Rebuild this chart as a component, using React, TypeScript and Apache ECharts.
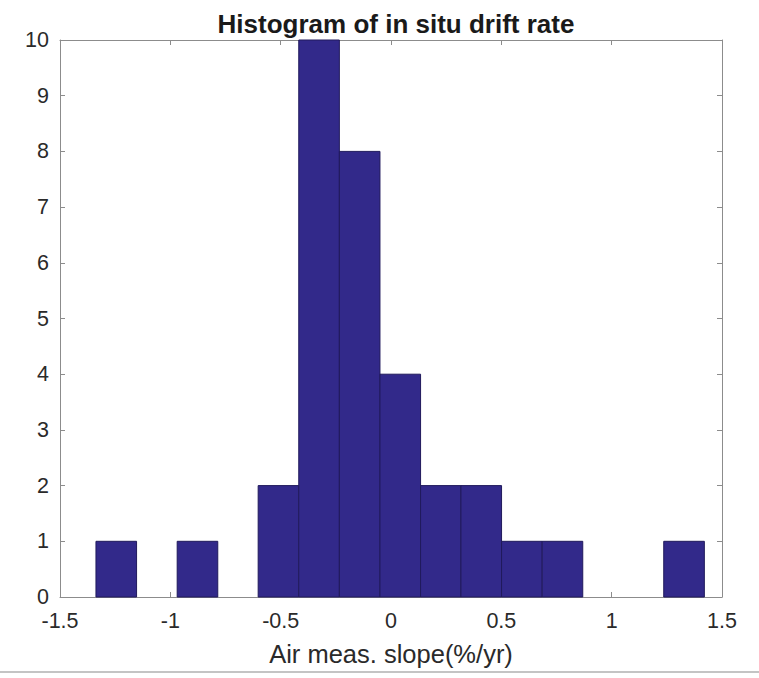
import React, { useEffect, useRef } from "react";
import * as echarts from "echarts";

const binEdges = [-1.337, -1.153, -0.969, -0.785, -0.602, -0.418, -0.234, -0.05, 0.134, 0.317, 0.501, 0.685, 0.869, 1.053, 1.236, 1.42];
const counts = [1, 0, 1, 0, 2, 10, 8, 4, 2, 2, 1, 1, 0, 0, 1];
const titleText = "Histogram of in situ drift rate";
const xName = "Air meas. slope(%/yr)";

export default function App() {
  const ref = useRef<HTMLDivElement>(null);
  useEffect(() => {
    const chart = echarts.init(ref.current!, null, { renderer: "svg" });
    const data = counts.map((c, i) => [binEdges[i], binEdges[i + 1], c]);
    const axisColor = "#8c8c8c";
    const labelColor = "#2a2a2a";
    const font = "Liberation Sans, Arial, Helvetica, sans-serif";
    chart.setOption({
      animation: false,
      backgroundColor: "#ffffff",
      title: {
        text: titleText,
        left: 391,
        top: 6,
        textAlign: "center",
        textStyle: { fontFamily: font, fontSize: 26, fontWeight: "bold", color: "#1a1a1a" },
      },
      grid: { left: 60, top: 40, right: 37, bottom: 81, containLabel: false },
      xAxis: [
        {
          type: "value",
          min: -1.5,
          max: 1.5,
          interval: 0.5,
          position: "bottom",
          name: xName,
          nameLocation: "middle",
          nameGap: 44,
          nameTextStyle: { fontFamily: font, fontSize: 25.5, color: labelColor },
          axisLine: { show: true, onZero: false, lineStyle: { color: axisColor, width: 1 } },
          axisTick: { show: true, inside: true, length: 5, lineStyle: { color: axisColor } },
          axisLabel: {
            fontFamily: font, fontSize: 21.5, color: labelColor, margin: 13,
            formatter: (v: number) => String(v),
          },
          splitLine: { show: false },
        },
        {
          type: "value",
          min: -1.5,
          max: 1.5,
          interval: 0.5,
          position: "top",
          axisLine: { show: true, onZero: false, lineStyle: { color: axisColor, width: 1 } },
          axisTick: { show: true, inside: true, length: 5, lineStyle: { color: axisColor } },
          axisLabel: { show: false },
          splitLine: { show: false },
        },
      ],
      yAxis: [
        {
          type: "value",
          min: 0,
          max: 10,
          interval: 1,
          position: "left",
          axisLine: { show: true, onZero: false, lineStyle: { color: axisColor, width: 1 } },
          axisTick: { show: true, inside: true, length: 5, lineStyle: { color: axisColor } },
          axisLabel: { fontFamily: font, fontSize: 21.5, color: labelColor, margin: 11 },
          splitLine: { show: false },
        },
        {
          type: "value",
          min: 0,
          max: 10,
          interval: 1,
          position: "right",
          axisLine: { show: true, onZero: false, lineStyle: { color: axisColor, width: 1 } },
          axisTick: { show: true, inside: true, length: 5, lineStyle: { color: axisColor } },
          axisLabel: { show: false },
          splitLine: { show: false },
        },
      ],
      graphic: [
        {
          type: "line",
          shape: { x1: 0, y1: 672, x2: 759, y2: 672 },
          style: { stroke: "#c4c4c4", lineWidth: 2 },
        },
      ],
      series: [
        {
          type: "custom",
          xAxisIndex: 0,
          yAxisIndex: 0,
          data,
          encode: { x: [0, 1], y: 2 },
          renderItem: (params: any, api: any) => {
            const c = api.value(2);
            if (!c) return null;
            const p0 = api.coord([api.value(0), 0]);
            const p1 = api.coord([api.value(1), c]);
            return {
              type: "rect",
              shape: { x: p0[0], y: p1[1], width: p1[0] - p0[0], height: p0[1] - p1[1] },
              style: { fill: "#32298a", stroke: "#201a5c", lineWidth: 1 },
            };
          },
        },
      ],
    });
    return () => chart.dispose();
  }, []);
  return <div ref={ref} style={{ position: "fixed", left: 0, top: 0, width: 759, height: 678 }} />;
}
